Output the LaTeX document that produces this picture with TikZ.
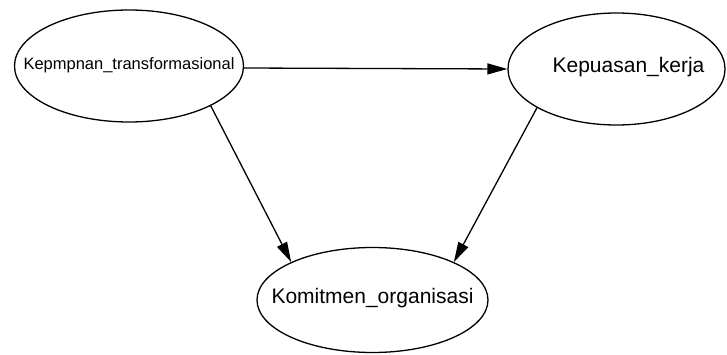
\documentclass[tikz,border=0pt]{standalone}
\usepackage{fontspec}
\setmainfont{Liberation Sans}
\usetikzlibrary{shapes.geometric,arrows.meta}
\newcommand{\ctext}[2][0pt]{\makebox[0pt][c]{\hspace*{#1}#2}}
\begin{document}
\begin{tikzpicture}[x=1pt,y=-1pt,
  var/.style={ellipse,draw=black,line width=1.3pt,inner sep=0pt,text height=0.72em,text depth=0pt,fill=white},
  link/.style={draw=black,line width=1.3pt,-{Triangle[length=20pt,width=11pt]}}]
\useasboundingbox (0,0) rectangle (727,355);
\node[var,minimum width=229pt,minimum height=112pt,font=\fontsize{16.5}{18}\selectfont] (kt) at (129,66) {\ctext{Kepmpnan\_transformasional}};
\node[var,minimum width=217pt,minimum height=112pt,font=\fontsize{21}{24}\selectfont] (kk) at (616.5,69) {\ctext[24pt]{Kepuasan\_kerja}};
\node[var,minimum width=231pt,minimum height=105pt,font=\fontsize{21}{24}\selectfont] (ko) at (372.5,300) {\ctext{Komitmen\_organisasi}};
\draw[link] (kt.-1) -- (kk.180);
\draw[link] (kt.-26) -- (ko.155);
\draw[link] (kk.-154) -- (ko.25);
\end{tikzpicture}
\end{document}
